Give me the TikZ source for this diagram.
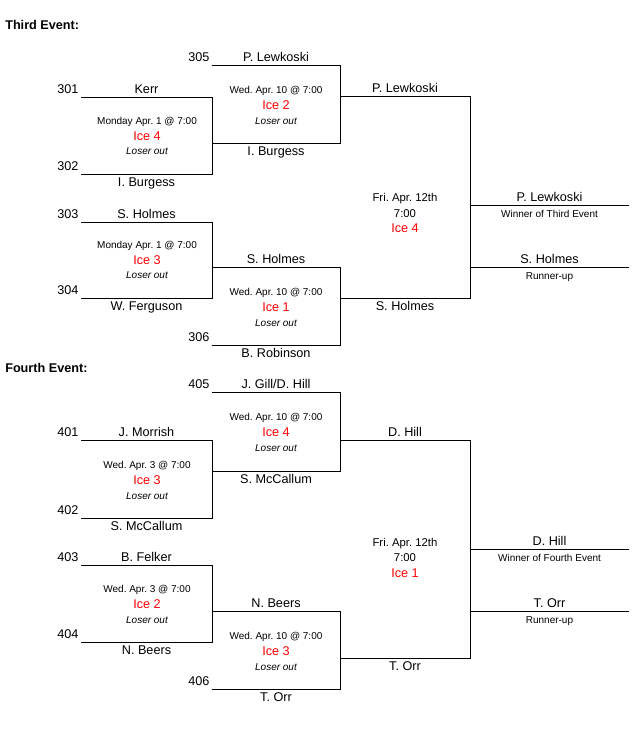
\documentclass[tikz,border=0pt]{standalone}
\usepackage{fontspec}
\setmainfont{Liberation Sans}
\usetikzlibrary{positioning}
\frenchspacing

\tikzset{
  nm/.style={anchor=base, inner sep=0pt, font=\fontsize{9.5}{11}\selectfont},
  top/.style={nm, yshift=2.5pt},
  bot/.style={nm, yshift=-9pt},
  num/.style={nm, anchor=base east, xshift=-1.5pt, yshift=2.5pt},
  when/.style={nm, font=\fontsize{7.5}{9}\selectfont},
  fri/.style={nm, font=\fontsize{8.5}{10}\selectfont},
  ice/.style={nm, text=red},
  loser/.style={nm, font=\fontsize{7.5}{9}\selectfont\itshape},
  sub/.style={nm, yshift=-9pt, font=\fontsize{7.5}{9}\selectfont},
  title/.style={nm, anchor=base west, font=\fontsize{9.5}{11}\selectfont\bfseries},
  bracket/.style={line width=0.75pt},
}

\begin{document}
\begin{tikzpicture}[x=0.75pt, y=-0.75pt]
    \useasboundingbox (0,0) rectangle (639,729);

    % Third Event
    \node[title] (third) at (5,29) {Third Event:};

    % Line ends
    \coordinate (s301) at (81,97);   \coordinate (e301) at (212,97);
    \coordinate (s302) at (81,174);  \coordinate (e302) at (212,174);
    \coordinate (s303) at (81,222);  \coordinate (e303) at (212,222);
    \coordinate (s304) at (81,298);  \coordinate (e304) at (212,298);
    \coordinate (s305) at (212,65);  \coordinate (e305) at (340,65);
    \coordinate (s3b) at (212,143);  \coordinate (e3b) at (340,143);
    \coordinate (s3h) at (212,267);  \coordinate (e3h) at (340,267);
    \coordinate (s306) at (212,345); \coordinate (e306) at (340,345);
    \coordinate (s3f1) at (340,96);  \coordinate (e3f1) at (470,96);
    \coordinate (s3f2) at (340,298); \coordinate (e3f2) at (470,298);
    \coordinate (s3w) at (470,205);  \coordinate (e3w) at (629,205);
    \coordinate (s3r) at (470,267);  \coordinate (e3r) at (629,267);

    % First round
    \draw[bracket] (s301) node[num] (l301) {301} -- node[top] (p301) {Kerr} (e301)
        -- (e302) -- node[bot] (p302) {I. Burgess} (s302) node[num] (l302) {302};
    \draw[bracket] (s303) node[num] (l303) {303} -- node[top] (p303) {S. Holmes} (e303)
        -- (e304) -- node[bot] (p304) {W. Ferguson} (s304) node[num] (l304) {304};

    % Second round
    \draw[bracket] (s305) node[num] (l305) {305} -- node[top] (p305) {P. Lewkoski} (e305)
        -- (e3b) -- node[bot] (p3b) {I. Burgess} (s3b);
    \draw[bracket] (s3h) -- node[top] (p3h) {S. Holmes} (e3h)
        -- (e306) -- node[bot] (p306) {B. Robinson} (s306) node[num] (l306) {306};

    % Final
    \draw[bracket] (s3f1) -- node[top] (p3f1) {P. Lewkoski} (e3f1)
        -- (e3f2) -- node[bot] (p3f2) {S. Holmes} (s3f2);
    \draw[bracket] (s3w) -- node[top] (p3w) {P. Lewkoski}
        node[sub] (w3) {Winner of Third Event} (e3w);
    \draw[bracket] (s3r) -- node[top] (p3r) {S. Holmes}
        node[sub] (r3) {Runner-up} (e3r);

    % Game info
    \node[when] (d31) at (147,124) {Monday Apr. 1 @ 7:00};
    \node[ice] (i31) at (147,140) {Ice 4};
    \node[loser] (o31) at (147,154.7) {Loser out};
    \node[when] (d32) at (147,248) {Monday Apr. 1 @ 7:00};
    \node[ice] (i32) at (147,264) {Ice 3};
    \node[loser] (o32) at (147,278.7) {Loser out};
    \node[when] (d33) at (276,93.3) {Wed. Apr. 10 @ 7:00};
    \node[ice] (i33) at (276,109.3) {Ice 2};
    \node[loser] (o33) at (276,124) {Loser out};
    \node[when] (d34) at (276,295.3) {Wed. Apr. 10 @ 7:00};
    \node[ice] (i34) at (276,311.3) {Ice 1};
    \node[loser] (o34) at (276,326) {Loser out};
    \node[fri] (d35) at (405,201.7) {Fri. Apr. 12th};
    \node[fri] (t35) at (405,217.3) {7:00};
    \node[ice] (i35) at (405,232.7) {Ice 4};

    % Fourth Event
    \node[title] (fourth) at (5,372.5) {Fourth Event:};

    % Line ends
    \coordinate (s401) at (81,440);  \coordinate (e401) at (212,440);
    \coordinate (s402) at (81,518);  \coordinate (e402) at (212,518);
    \coordinate (s403) at (81,565);  \coordinate (e403) at (212,565);
    \coordinate (s404) at (81,642);  \coordinate (e404) at (212,642);
    \coordinate (s405) at (212,392); \coordinate (e405) at (340,392);
    \coordinate (s4m) at (212,471);  \coordinate (e4m) at (340,471);
    \coordinate (s4n) at (212,611);  \coordinate (e4n) at (340,611);
    \coordinate (s406) at (212,689); \coordinate (e406) at (340,689);
    \coordinate (s4f1) at (340,440); \coordinate (e4f1) at (470,440);
    \coordinate (s4f2) at (340,658); \coordinate (e4f2) at (470,658);
    \coordinate (s4w) at (470,549);  \coordinate (e4w) at (629,549);
    \coordinate (s4r) at (470,611);  \coordinate (e4r) at (629,611);

    % First round
    \draw[bracket] (s401) node[num] (l401) {401} -- node[top] (p401) {J. Morrish} (e401)
        -- (e402) -- node[bot] (p402) {S. McCallum} (s402) node[num] (l402) {402};
    \draw[bracket] (s403) node[num] (l403) {403} -- node[top] (p403) {B. Felker} (e403)
        -- (e404) -- node[bot] (p404) {N. Beers} (s404) node[num] (l404) {404};

    % Second round
    \draw[bracket] (s405) node[num] (l405) {405} -- node[top] (p405) {J. Gill/D. Hill} (e405)
        -- (e4m) -- node[bot] (p4m) {S. McCallum} (s4m);
    \draw[bracket] (s4n) -- node[top] (p4n) {N. Beers} (e4n)
        -- (e406) -- node[bot] (p406) {T. Orr} (s406) node[num] (l406) {406};

    % Final
    \draw[bracket] (s4f1) -- node[top] (p4f1) {D. Hill} (e4f1)
        -- (e4f2) -- node[bot] (p4f2) {T. Orr} (s4f2);
    \draw[bracket] (s4w) -- node[top] (p4w) {D. Hill}
        node[sub] (w4) {Winner of Fourth Event} (e4w);
    \draw[bracket] (s4r) -- node[top] (p4r) {T. Orr}
        node[sub] (r4) {Runner-up} (e4r);

    % Game info
    \node[when] (d41) at (147,468.3) {Wed. Apr. 3 @ 7:00};
    \node[ice] (i41) at (147,484.3) {Ice 3};
    \node[loser] (o41) at (147,499) {Loser out};
    \node[when] (d42) at (147,592.3) {Wed. Apr. 3 @ 7:00};
    \node[ice] (i42) at (147,608.3) {Ice 2};
    \node[loser] (o42) at (147,623) {Loser out};
    \node[when] (d43) at (276,420.7) {Wed. Apr. 10 @ 7:00};
    \node[ice] (i43) at (276,436.7) {Ice 4};
    \node[loser] (o43) at (276,451.4) {Loser out};
    \node[when] (d44) at (276,639.3) {Wed. Apr. 10 @ 7:00};
    \node[ice] (i44) at (276,655.3) {Ice 3};
    \node[loser] (o44) at (276,670) {Loser out};
    \node[fri] (d45) at (405,546) {Fri. Apr. 12th};
    \node[fri] (t45) at (405,561.5) {7:00};
    \node[ice] (i45) at (405,577) {Ice 1};
\end{tikzpicture}
\end{document}
